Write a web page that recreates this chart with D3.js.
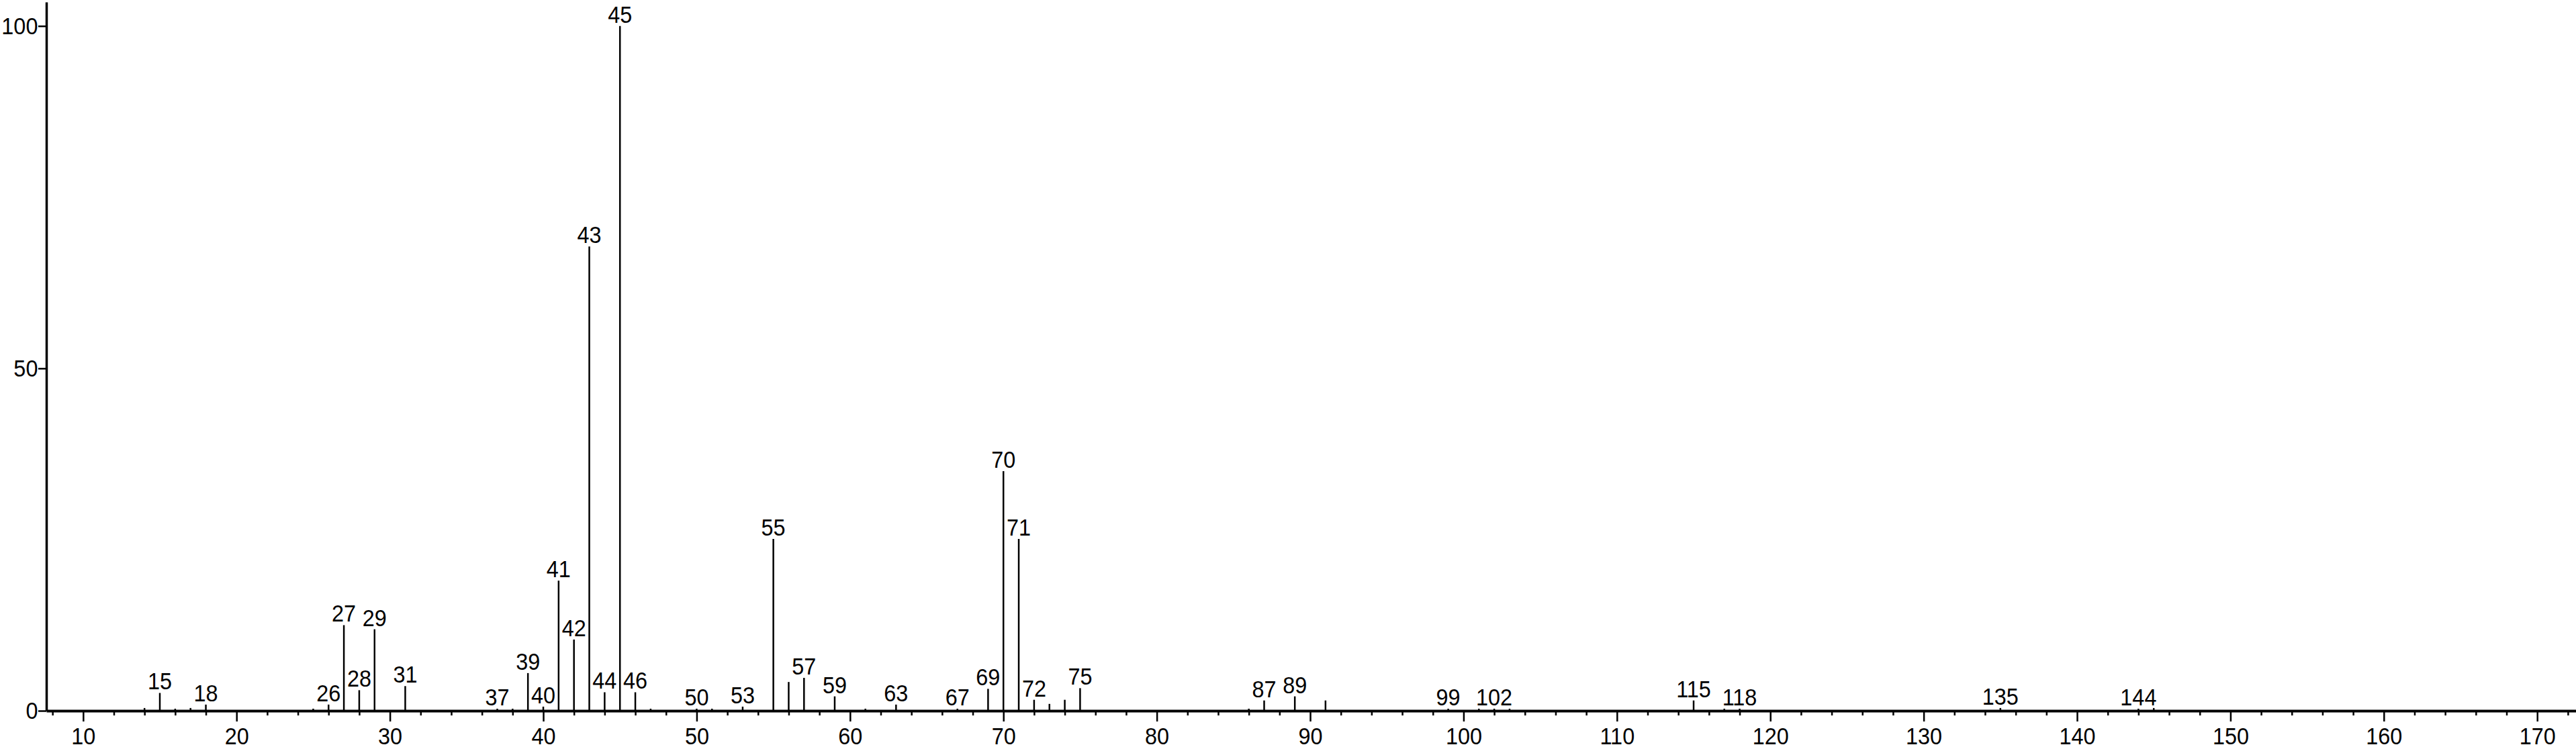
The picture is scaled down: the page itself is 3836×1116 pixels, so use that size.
<!DOCTYPE html>
<html>
<head>
<meta charset="utf-8">
<script src="https://cdn.jsdelivr.net/npm/d3@7"></script>
<style>
  body { margin: 0; background: #fff; }
  svg { display: block; }
  text { font-family: "Liberation Sans", Arial, sans-serif; fill: #000; }
</style>
</head>
<body>
<div id="graph"></div>
<script>
// mass spectrum: m/z and relative intensity (%)
var mz = [14, 15, 16, 17, 18, 25, 26, 27, 28, 29, 31, 37, 38, 39, 40, 41, 42, 43, 44, 45,
  46, 47, 50, 51, 53, 55, 56, 57, 59, 61, 63, 67, 69, 70, 71, 72, 73, 74, 75, 86,
  87, 89, 91, 99, 101, 102, 103, 115, 117, 118, 135, 144, 145];
var intensity = [0.4, 2.6, 0.3, 0.4, 0.9, 0.3, 0.9, 12.5, 3.0, 11.9, 3.6, 0.3, 0.3, 5.5, 0.6, 19.0, 10.4, 67.8, 2.7, 100,
  2.7, 0.3, 0.3, 0.3, 0.6, 25.1, 4.2, 4.8, 2.1, 0.3, 0.9, 0.3, 3.2, 35.0, 25.1, 1.6, 1.0, 1.6, 3.3, 0.3,
  1.5, 2.1, 1.5, 0.3, 0.3, 0.3, 0.3, 1.5, 0.3, 0.3, 0.4, 0.3, 0.4];
// peaks that carry a label
var labeled = [15, 18, 26, 27, 28, 29, 31, 37, 39, 40, 41, 42, 43, 44, 45, 46, 50, 53, 55, 57,
  59, 63, 67, 69, 70, 71, 72, 75, 87, 89, 99, 102, 115, 118, 135, 144];

var xMajorTicks = [10, 20, 30, 40, 50, 60, 70, 80, 90, 100, 110, 120, 130, 140, 150, 160, 170];
var yTicks = [0, 50, 100];

var width = 3836;
var height = 1116;
var axisLeftX = 69;
var baseY = 1059;
var squeeze = 0.9; // the original font is a bit narrow

var xScale = d3.scaleLinear()
  .domain([7.6, 172.53])
  .range([axisLeftX, width]);
var yScale = d3.scaleLinear()
  .domain([0, 103.5])
  .range([baseY, 3]);

var minorTicks = d3.range(8, 173, 2).filter(function (d) { return d % 10 != 0; });

var peaks = mz.map(function (m, i) { return { m: m, v: intensity[i] }; });

var svg = d3.select("#graph")
  .append("svg")
  .attr("width", width)
  .attr("height", height);

svg.append("rect")
  .attr("width", width)
  .attr("height", height)
  .attr("fill", "#fff");

// minor ticks on the x axis (no labels)
svg.append("g")
  .attr("class", "x minor")
  .attr("transform", "translate(0," + baseY + ")")
  .call(d3.axisBottom(xScale).tickValues(minorTicks).tickSize(7).tickFormat(""))
  .call(function (g) { g.select(".domain").remove(); })
  .selectAll("line")
  .attr("stroke", "#000")
  .attr("stroke-width", 2.5);

// major ticks + labels
var xAxis = svg.append("g")
  .attr("class", "x axis")
  .attr("transform", "translate(0," + baseY + ")")
  .call(d3.axisBottom(xScale).tickValues(xMajorTicks).tickSize(16).tickSizeOuter(0).tickPadding(8));
xAxis.select(".domain")
  .attr("stroke", "#000")
  .attr("stroke-width", 4);
xAxis.selectAll("line")
  .attr("stroke", "#000")
  .attr("stroke-width", 2.5);
xAxis.selectAll("text")
  .attr("font-size", 36)
  .attr("fill", "#000")
  .attr("transform", "scale(" + squeeze + ",1)");

// y axis
var yAxis = svg.append("g")
  .attr("class", "y axis")
  .attr("transform", "translate(" + axisLeftX + ",0)")
  .call(d3.axisLeft(yScale).tickValues(yTicks).tickSize(12).tickSizeOuter(0).tickPadding(2));
yAxis.select(".domain")
  .attr("stroke", "#000")
  .attr("stroke-width", 3.5);
yAxis.selectAll("line")
  .attr("stroke", "#000")
  .attr("stroke-width", 2.5);
yAxis.selectAll("text")
  .attr("font-size", 36)
  .attr("fill", "#000")
  .attr("transform", "scale(" + squeeze + ",1)");

// peaks
svg.selectAll(".peak")
  .data(peaks)
  .enter()
  .append("line")
  .attr("class", "peak")
  .attr("x1", function (d) { return xScale(d.m); })
  .attr("x2", function (d) { return xScale(d.m); })
  .attr("y1", baseY)
  .attr("y2", function (d) { return yScale(d.v); })
  .attr("stroke", "#000")
  .attr("stroke-width", 2.5);

// peak labels
svg.selectAll(".plabel")
  .data(peaks.filter(function (d) { return labeled.indexOf(d.m) >= 0; }))
  .enter()
  .append("text")
  .attr("class", "plabel")
  .attr("transform", function (d) {
    return "translate(" + xScale(d.m) + "," + (yScale(d.v) - 5) + ") scale(" + squeeze + ",1)";
  })
  .attr("text-anchor", "middle")
  .attr("font-size", 36)
  .text(function (d) { return d.m; });
</script>
</body>
</html>
